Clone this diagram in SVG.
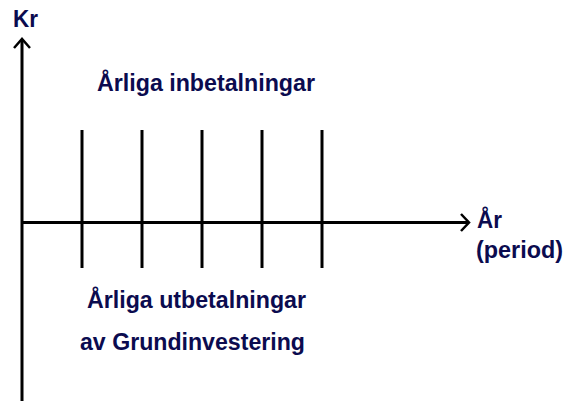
<svg xmlns="http://www.w3.org/2000/svg" width="565" height="401" viewBox="0 0 565 401">
<style>
.ax{stroke:#000;stroke-width:3;fill:none}
.tk{stroke:#000;stroke-width:3}
.hd{stroke:#000;stroke-width:2.5;fill:none;stroke-linejoin:miter}
.t{font-family:"Liberation Sans",Arial,sans-serif;font-weight:bold;fill:#0b0b4f;font-size:23px}
</style>
<rect width="565" height="401" fill="#fff"/>
<g id="connectors">
<line class="ax" x1="22" y1="40" x2="22" y2="401"/>
<path class="hd" d="M14,48 L22,39 L30,48"/>
<line class="ax" x1="22" y1="222.5" x2="468" y2="222.5"/>
<path class="hd" d="M461,214 L469,222.5 L461,231"/>
</g>
<g id="ticks">
<line class="tk" x1="82" y1="130" x2="82" y2="268"/>
<line class="tk" x1="142" y1="130" x2="142" y2="268"/>
<line class="tk" x1="202" y1="130" x2="202" y2="268"/>
<line class="tk" x1="262" y1="130" x2="262" y2="268"/>
<line class="tk" x1="322" y1="130" x2="322" y2="268"/>
</g>
<g id="label-kr"><text class="t" x="13" y="27" font-size="22" textLength="25" lengthAdjust="spacingAndGlyphs">Kr</text></g>
<g id="label-in"><text class="t" x="97" y="91" textLength="218" lengthAdjust="spacingAndGlyphs">Årliga inbetalningar</text></g>
<g id="label-ar"><text class="t" x="477" y="228" textLength="25" lengthAdjust="spacingAndGlyphs">År</text><text class="t" x="476" y="258" textLength="87" lengthAdjust="spacingAndGlyphs">(period)</text></g>
<g id="label-ut"><text class="t" x="87" y="308" textLength="219" lengthAdjust="spacingAndGlyphs">Årliga utbetalningar</text><text class="t" x="80" y="350" textLength="225" lengthAdjust="spacingAndGlyphs">av Grundinvestering</text></g>
</svg>
